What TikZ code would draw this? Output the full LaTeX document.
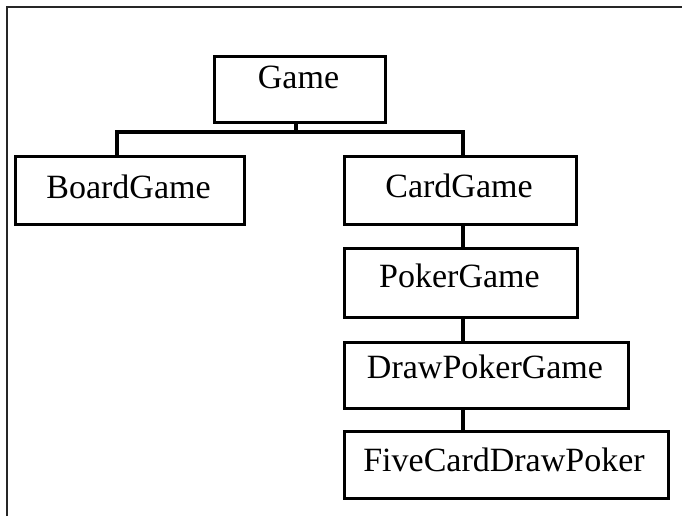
\documentclass[tikz,border=0pt]{standalone}
\usepackage{fontspec}
\setmainfont{Liberation Serif}
\begin{document}
\begin{tikzpicture}[x=0.5pt,y=-0.5pt,
  classbox/.style={draw=black, line width=1.5pt, rectangle, inner sep=0pt, anchor=north west},
  classtext/.style={anchor=base, inner sep=0pt, font=\fontsize{17}{20}\selectfont},
  link/.style={draw=black, line width=1.6pt},
  framestyle/.style={draw=black!85, line width=1pt}]
\useasboundingbox (0,0) rectangle (682,516);
% frame (top and left sides)
\coordinate (f1) at (7,516);
\coordinate (f2) at (7,7);
\coordinate (f3) at (682,7);
\draw[framestyle] (f1) -- (f2) -- (f3);
% boxes
\node[classbox, minimum width=85.5pt, minimum height=33pt] (game) at (213,55) {};
\node[classbox, minimum width=114.5pt, minimum height=34pt] (board) at (14,155) {};
\node[classbox, minimum width=116pt, minimum height=34pt] (card) at (343,155) {};
\node[classbox, minimum width=116.5pt, minimum height=34.5pt] (poker) at (343,247) {};
\node[classbox, minimum width=142pt, minimum height=33pt] (draw) at (343,341) {};
\node[classbox, minimum width=162pt, minimum height=33.5pt] (five) at (343,430) {};
% texts
\node[classtext] (gameT) at (298.5,88) {Game};
\node[classtext] (boardT) at (128.5,198) {BoardGame};
\node[classtext] (cardT) at (459,197) {CardGame};
\node[classtext] (pokerT) at (459.5,287) {PokerGame};
\node[classtext] (drawT) at (485,378) {DrawPokerGame};
\node[classtext] (fiveT) at (504,471) {FiveCardDrawPoker};
% connectors
\coordinate (j) at (296,132);
\coordinate (jl) at (117,132);
\coordinate (jr) at (463,132);
\draw[link] (game.south -| j) -- (j);
\draw[link] (jl |- board.north) -- (jl) -- (jr) -- (jr |- card.north);
\draw[link] (card.south -| jr) -- (poker.north -| jr);
\draw[link] (poker.south -| jr) -- (draw.north -| jr);
\draw[link] (draw.south -| jr) -- (five.north -| jr);
\end{tikzpicture}
\end{document}
